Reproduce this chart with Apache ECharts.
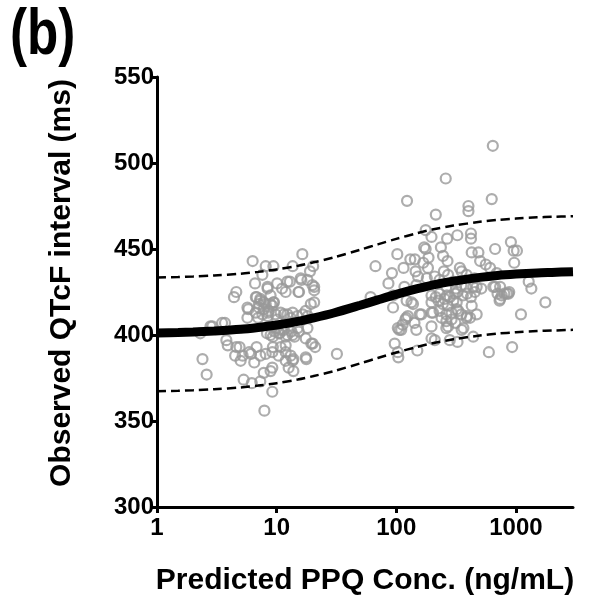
<!DOCTYPE html>
<html>
<head>
<meta charset="utf-8">
<script src="https://cdn.jsdelivr.net/npm/echarts@6/dist/echarts.min.js"></script>
<style>html,body{margin:0;padding:0;background:#fff}#c{width:590px;height:601px}</style>
</head>
<body>
<div id="c"></div>
<script>
// Observed points: [Predicted PPQ conc (ng/mL), observed QTcF (ms)]
var lowConcPoints = [
[16.4,447],[6.3,443],[8.1,440],[9.4,440],[13.6,440],[20.2,440],[19,437],[7.6,435],[18.1,432],[6.6,430],
[10.1,430],[12.9,431],[16.1,432],[20.6,428],[20.6,426],[8.4,427],[11.9,425],[15.2,425],[4.6,425],[4.4,422],
[8.9,423],[6.8,422],[7.3,421],[7.8,419],[7.1,418],[8.1,418],[9.4,419],[20.6,419],[5.8,415],[6.7,413],
[17.5,414],[3.7,407],[5.7,410],[7.0,410],[8.4,411],[10.1,409],[11.5,412],[13.1,410],[14.9,411],[2.3,401],
[2.8,405],[18.1,404],[3.8,397],[3.9,394],[4.6,393],[20,395],[21,393],[31.9,389],[2.4,386],[4.5,388],
[5,385],[5.9,390],[6.8,393],[8.1,389],[9.2,390],[10.4,388],[11.9,390],[13.1,388],[13.8,386],[2.6,377],
[5.3,374],[6.2,372],[7.3,373],[7.8,378],[8.9,379],[9.2,381],[12.6,381],[13.8,379],[17.5,387],[9.2,367],
[7.9,356],[11.1,427],[12.3,431],[15.9,433],[15.4,425],[19.9,429],[8.4,428],[6.7,422],[7.3,420],[8.9,418],
[9.5,419],[7.1,416],[7.8,415],[8.6,414],[9.2,417],[5.7,416],[3.5,407],[2.9,405],[7.6,412],[8.5,413],
[9.8,412],[10.8,413],[12.3,412],[13.6,413],[16.5,412],[18.2,411],[19.3,418],[8.3,401],[8.9,400],[9.6,402],
[10.6,401],[11.5,403],[12.3,400],[13.3,402],[14.1,399],[10,404],[11,403],[15,404],[9.3,399],[10.4,401],
[11.9,399],[13.6,400],[15.3,402],[17.5,398],[9.3,393],[10.8,393],[11.9,394],[6.1,389],[7.3,388],[11.9,385],
[13.6,385],[17.7,386],[19.5,395],[4.9,393],[5.2,388],[6.5,384]
];
var highConcPoints = [
[641,510],[259,491],[123,478],[628,479],[401,475],[401,472],[214,470],[176,461],[197,457],[421,459],
[421,456],[324,458],[266,456],[908,454],[171,451],[176,450],[236,451],[102,447],[670,450],[957,449],
[1020,449],[427,448],[486,448],[246,446],[131,444],[143,444],[186,445],[168,442],[268,443],[67,440],
[115,439],[184,439],[502,443],[560,441],[608,439],[340,439],[352,437],[968,442],[92,436],[145,437],
[152,434],[210,434],[271,435],[387,435],[86,430],[117,428],[147,429],[262,428],[316,427],[382,428],
[440,428],[514,427],[670,428],[738,428],[702,424],[840,424],[879,425],[1346,427],[1762,419],[61,422],
[94,423],[94,416],[122,420],[134,419],[138,418],[692,436],[1279,431],[197,423],[214,422],[230,424],
[253,421],[265,423],[280,422],[310,424],[325,425],[360,423],[390,424],[420,422],[197,419],[225,420],
[245,418],[270,417],[300,420],[320,419],[730,420],[800,424],[197,413],[230,414],[262,412],[290,413],
[330,414],[350,412],[390,411],[119,409],[125,411],[157,412],[103,404],[110,403],[142,407],[147,403],
[197,405],[203,413],[262,408],[271,405],[312,407],[364,404],[387,410],[427,417],[197,398],[210,397],
[97,395],[103,390],[104,387],[150,391],[280,397],[325,396],[440,399],[594,390],[930,393],[1102,412],
[121,410],[113,406],[106,403],[162,412],[239,410],[290,409],[262,404],[320,415],[352,403],[414,410],
[470,412],[738,421],[470,428],[454,425],[647,428],[867,424],[762,423],[300,431],[350,429],[230,432],
[450,433],[180,433],[250,437]
];
// Model prediction (mean) and 90% prediction interval
var curveConc  = [1,1.5,2,3,5,7,10,15,20,30,50,70,100,150,200,300,500,700,1000,1500,2000,3000];
var curveMean  = [401.1,401.4,401.7,402.3,403.3,404.4,405.8,407.9,409.8,412.8,417.3,420.4,423.6,426.9,429.0,431.3,433.5,434.6,435.4,436.1,436.4,436.8];
var curveUpper = [433.4,433.7,434.0,434.6,435.6,436.7,438.1,440.2,442.1,445.1,449.6,452.7,455.9,459.2,461.3,463.6,465.8,466.9,467.7,468.4,468.7,469.1];
var curveLower = [367.3,367.6,367.9,368.5,369.5,370.6,372.0,374.1,376.0,379.0,383.5,386.6,389.8,393.1,395.2,397.5,399.7,400.8,401.6,402.3,402.6,403.0];
var xTicks = [1,10,100,1000];
var xTitle = 'Predicted PPQ Conc. (ng/mL)';
var yTitle = 'Observed QTcF interval (ms)';
var panelLabel = '(b)';

function pairs(xs, ys){ return xs.map(function(x,i){ return [x, ys[i]]; }); }

var FONT = 'Liberation Sans';
var chart = echarts.init(document.getElementById('c'), null, {renderer:'canvas'});
chart.setOption({
  animation:false,
  backgroundColor:'#fff',
  grid:{left:157, right:17, top:77, bottom:93, containLabel:false},
  graphic:[
    {type:'text', x:10, y:4, scaleX:0.8, style:{text:panelLabel, font:'bold 64px "Liberation Sans"', fill:'#000', textVerticalAlign:'top'}},
    {type:'text', x:62, y:283, rotation:Math.PI/2, style:{text:yTitle, font:'bold 30px "Liberation Sans"', fill:'#000', textAlign:'center', textVerticalAlign:'middle'}}
  ],
  xAxis:{
    type:'log', logBase:10, min:1, max:3000,
    name:xTitle, nameLocation:'middle', nameGap:59,
    nameTextStyle:{fontFamily:FONT, fontWeight:'bold', fontSize:30, color:'#000'},
    axisLine:{show:true, lineStyle:{color:'#000', width:3}},
    axisTick:{show:true, length:6, lineStyle:{color:'#000', width:3}, customValues:xTicks},
    axisLabel:{fontFamily:FONT, fontWeight:'bold', fontSize:24, color:'#000', margin:9, customValues:xTicks,
      formatter:function(v){ return String(Math.round(v)); }},
    splitLine:{show:false}, minorTick:{show:false}
  },
  yAxis:{
    type:'value', min:300, max:550, interval:50,
    axisLine:{show:true, lineStyle:{color:'#000', width:3}},
    axisTick:{show:true, length:5, lineStyle:{color:'#000', width:3}},
    axisLabel:{fontFamily:FONT, fontWeight:'bold', fontSize:24, color:'#000', margin:3},
    splitLine:{show:false}
  },
  series:[
    {type:'scatter', data:lowConcPoints.concat(highConcPoints), symbol:'circle', symbolSize:10,
     itemStyle:{color:'rgba(255,255,255,0)', borderColor:'#999', borderWidth:2.2}, z:2},
    {type:'line', data:pairs(curveConc, curveUpper), showSymbol:false, smooth:0.3,
     lineStyle:{color:'#000', width:2.5, type:[9,5]}, z:3},
    {type:'line', data:pairs(curveConc, curveLower), showSymbol:false, smooth:0.3,
     lineStyle:{color:'#000', width:2.5, type:[9,5]}, z:3},
    {type:'line', data:pairs(curveConc, curveMean), showSymbol:false, smooth:0.3,
     lineStyle:{color:'#000', width:9}, z:4}
  ]
});
</script>
</body>
</html>
